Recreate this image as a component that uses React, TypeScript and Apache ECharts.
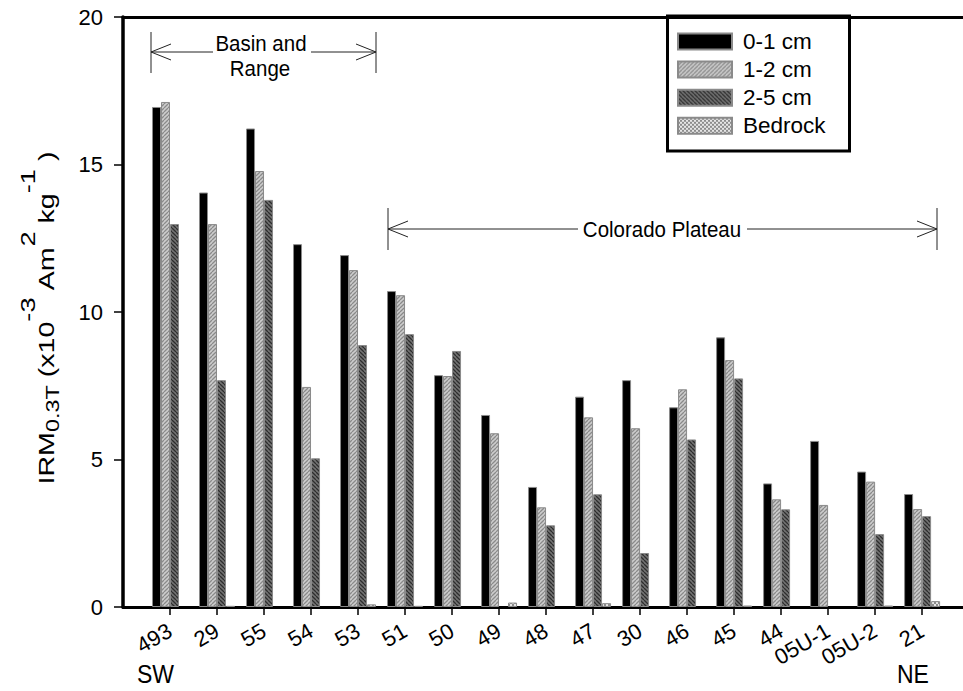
import React, { useEffect, useRef } from 'react';
import * as echarts from 'echarts';

const categories = ['493', '29', '55', '54', '53', '51', '50', '49', '48', '47', '30', '46', '45', '44', '05U-1', '05U-2', '21'];
const cm01 = [16.95, 14.05, 16.22, 12.3, 11.93, 10.71, 7.86, 6.51, 4.07, 7.13, 7.69, 6.77, 9.14, 4.19, 5.63, 4.59, 3.83];
const cm12 = [17.12, 12.98, 14.78, 7.46, 11.42, 10.57, 7.83, 5.89, 3.38, 6.43, 6.06, 7.38, 8.37, 3.65, 3.46, 4.25, 3.32];
const cm25 = [12.98, 7.69, 13.8, 5.04, 8.88, 9.25, 8.68, null, 2.77, 3.82, 1.83, 5.68, 7.75, 3.31, null, 2.47, 3.08];
const bedrock = [null, 0.04, null, null, 0.09, 0.04, null, 0.15, null, 0.13, null, null, 0.05, null, null, 0.05, 0.2];
const seriesNames = ['0-1 cm', '1-2 cm', '2-5 cm', 'Bedrock'];
const yMin = 0;
const yMax = 20;
const yStep = 5;

function stripePattern(bg: string, fg: string, dir: string, size = 4, lw = 1.3) {
  const c = document.createElement('canvas');
  c.width = size;
  c.height = size;
  const ctx = c.getContext('2d')!;
  ctx.fillStyle = bg;
  ctx.fillRect(0, 0, size, size);
  ctx.strokeStyle = fg;
  ctx.lineWidth = lw;
  ctx.beginPath();
  for (const o of [-size, 0, size]) {
    if (dir === '/') {
      ctx.moveTo(o, size);
      ctx.lineTo(o + size, 0);
    } else {
      ctx.moveTo(o, 0);
      ctx.lineTo(o + size, size);
    }
  }
  ctx.stroke();
  return c;
}

function checkerPattern(a: string, b: string) {
  const c = document.createElement('canvas');
  c.width = 4;
  c.height = 4;
  const ctx = c.getContext('2d')!;
  ctx.fillStyle = a;
  ctx.fillRect(0, 0, 4, 4);
  ctx.fillStyle = b;
  ctx.fillRect(0, 0, 2, 2);
  ctx.fillRect(2, 2, 2, 2);
  return c;
}

const toData = (arr: (number | null)[]) => arr.map((v, i) => [i, v === null ? '-' : v]);

export default function App() {
  const ref = useRef<HTMLDivElement>(null);
  useEffect(() => {
    if (!ref.current) return;
    const chart = echarts.init(ref.current, undefined, { renderer: 'svg' });
    const font = 'Liberation Sans, Arial, Helvetica, sans-serif';
    const idx = categories.map((_, i) => i);
    const xMin = -1;
    const xMax = 16.87;
    const fills = [
      '#000000',
      { image: stripePattern('#cdcdcd', '#8a8a8a', '/'), repeat: 'repeat' },
      { image: stripePattern('#747474', '#2e2e2e', '\\'), repeat: 'repeat' },
      { image: checkerPattern('#e6e6e6', '#8c8c8c'), repeat: 'repeat' },
    ];
    const seriesData = [cm01, cm12, cm25, bedrock];
    const lineStyle = { stroke: '#222', lineWidth: 1 };
    const arrow = (x0: number, y: number, dir: number) => ({
      type: 'polyline',
      shape: { points: [[x0 + dir * 20, y - 8], [x0, y], [x0 + dir * 20, y + 8]] },
      style: { ...lineStyle, fill: 'none' },
    });
    const annText = (text: string, x: number, y: number) => ({
      type: 'text',
      x,
      y,
      scaleY: 1.12,
      style: { text, fontSize: 20.5, fontFamily: font, fill: '#000', align: 'center', verticalAlign: 'middle' },
    });
    chart.setOption({
      animation: false,
      backgroundColor: '#fff',
      textStyle: { fontFamily: font },
      grid: { left: 123, right: 0, top: 17, bottom: 84, containLabel: false },
      legend: {
        orient: 'vertical',
        left: 677,
        top: 30,
        itemWidth: 54,
        itemHeight: 16,
        itemGap: 5.1,
        icon: 'rect',
        padding: 0,
        textStyle: { fontSize: 22.5, color: '#000', fontFamily: font, padding: [0, 0, 0, 6] },
        data: seriesNames,
      },
      xAxis: [
        {
          type: 'value',
          min: xMin,
          max: xMax,
          interval: 1,
          axisLine: { show: true, onZero: false, lineStyle: { color: '#000', width: 3 } },
          axisTick: { show: true, customValues: idx, length: 8, lineStyle: { color: '#000', width: 1.5 } },
          axisLabel: {
            customValues: idx,
            formatter: (v: number) => categories[Math.round(v)] ?? '',
            rotate: 30,
            fontSize: 22,
            margin: 22,
            color: '#000',
            fontFamily: font,
          },
          splitLine: { show: false },
        },
        {
          type: 'value',
          position: 'top',
          min: xMin,
          max: xMax,
          interval: 1,
          axisLine: { show: true, onZero: false, lineStyle: { color: '#000', width: 3 } },
          axisTick: { show: false },
          axisLabel: { show: false },
          splitLine: { show: false },
        },
      ],
      yAxis: {
        type: 'value',
        min: yMin,
        max: yMax,
        interval: yStep,
        axisLine: { show: true, onZero: false, lineStyle: { color: '#000', width: 3.5 } },
        axisTick: { show: true, length: 9, lineStyle: { color: '#000', width: 1.5 } },
        axisLabel: { fontSize: 22, margin: 20, color: '#000', fontFamily: font },
        splitLine: { show: false },
      },
      series: seriesNames.map((name, k) => ({
        name,
        type: 'bar',
        xAxisIndex: 0,
        barWidth: 9,
        barGap: '0%',
        data: toData(seriesData[k]),
        itemStyle: { color: fills[k], borderColor: '#8a8a8a', borderWidth: 1 },
      })),
      graphic: [
        {
          type: 'rect',
          shape: { x: 667.5, y: 16, width: 182, height: 135 },
          style: { fill: 'none', stroke: '#000', lineWidth: 3 },
          z: 100,
        },
        {
          type: 'text',
          x: 28,
          y: 318,
          rotation: Math.PI / 2,
          scaleX: 1.3,
          scaleY: 1,
          style: {
            text: '{m|IRM}{sub|0.3T}{m| (x10}{sup|-3}{m| Am}{sup|2}{m| kg}{sup|-1}{m| )}',
            align: 'center',
            verticalAlign: 'middle',
            fill: '#000',
            rich: {
              m: { fontSize: 22, lineHeight: 22, verticalAlign: 'top', padding: [18, 0, 0, 0], fontFamily: font },
              sup: { fontSize: 21, lineHeight: 21, verticalAlign: 'top', padding: [0, 0, 0, 0], fontFamily: font },
              sub: { fontSize: 18, lineHeight: 18, verticalAlign: 'top', padding: [27, 0, 0, 0], fontFamily: font },
            },
          },
        },
        // Basin and Range
        { type: 'line', shape: { x1: 151, y1: 32, x2: 151, y2: 73 }, style: lineStyle },
        { type: 'line', shape: { x1: 376, y1: 32, x2: 376, y2: 73 }, style: lineStyle },
        { type: 'line', shape: { x1: 151, y1: 52, x2: 213, y2: 52 }, style: lineStyle },
        { type: 'line', shape: { x1: 311, y1: 52, x2: 376, y2: 52 }, style: lineStyle },
        arrow(151, 52, 1),
        arrow(376, 52, -1),
        annText('Basin and', 261, 43),
        annText('Range', 260, 68),
        // Colorado Plateau
        { type: 'line', shape: { x1: 388, y1: 208, x2: 388, y2: 250 }, style: lineStyle },
        { type: 'line', shape: { x1: 937, y1: 208, x2: 937, y2: 250 }, style: lineStyle },
        { type: 'line', shape: { x1: 388, y1: 229, x2: 578, y2: 229 }, style: lineStyle },
        { type: 'line', shape: { x1: 747, y1: 229, x2: 937, y2: 229 }, style: lineStyle },
        arrow(388, 229, 1),
        arrow(937, 229, -1),
        annText('Colorado Plateau', 662, 229),
        // SW / NE
        { type: 'text', x: 137, y: 687, scaleY: 1.1, style: { text: 'SW', fontSize: 23, fontFamily: font, fill: '#000', align: 'left', verticalAlign: 'bottom' } },
        { type: 'text', x: 897, y: 687, scaleY: 1.1, style: { text: 'NE', fontSize: 23, fontFamily: font, fill: '#000', align: 'left', verticalAlign: 'bottom' } },
      ],
    });
    return () => chart.dispose();
  }, []);
  return <div ref={ref} style={{ position: 'fixed', left: 0, top: 0, width: 963, height: 691, background: '#fff' }} />;
}
